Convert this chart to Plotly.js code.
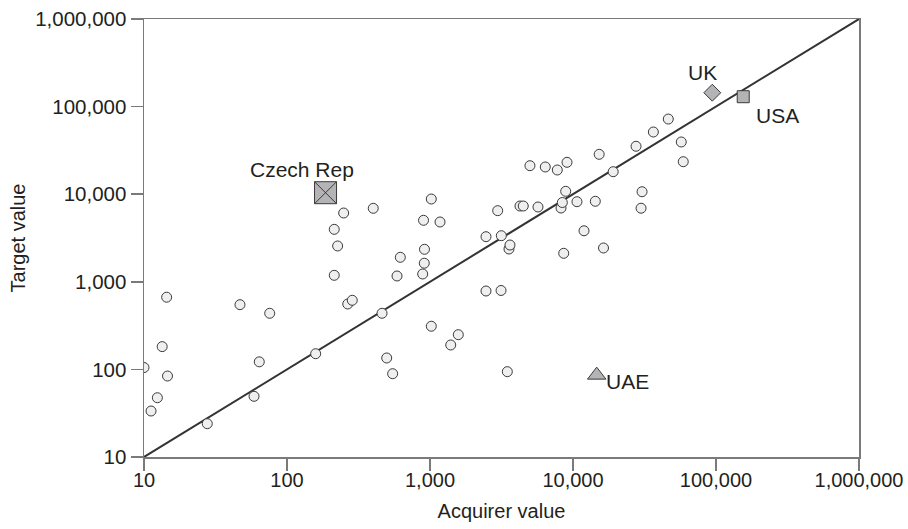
<!DOCTYPE html>
<html>
<head>
<meta charset="utf-8">
<script src="https://cdn.plot.ly/plotly-3.0.1.min.js"></script>
<style>html,body{margin:0;padding:0;background:#fff;}#chart{width:908px;height:529px;}</style>
</head>
<body>
<div id="chart"></div>
<script>
// ---- data ----
const circleX = [10, 11.2, 12.4, 13.4, 14.4, 14.6, 27.7, 46.9, 58.8, 64, 75.7, 158.7, 214, 214, 226, 249, 266, 286, 401, 462, 498, 548, 588, 620, 889, 912, 915, 901, 1021, 1021, 1175, 1396, 1577, 2464, 2464, 2974, 3153, 3139, 3473, 3567, 3625, 4259, 4490, 5000, 5690, 6400, 7766, 8244, 8420, 8610, 8890, 9080, 10660, 11940, 14320, 15240, 16340, 19100, 27600, 29920, 30400, 36470, 46380, 57150, 59020];
const circleY = [105, 33.5, 47.5, 182, 667, 84, 24, 548, 49.3, 122, 437, 151, 1186, 3973, 2564, 6100, 558, 615, 6902, 437, 135, 89.3, 1165, 1904, 1228, 1631, 2350, 5036, 8810, 311, 4817, 190, 249, 3273, 785, 6486, 3359, 796, 94.2, 2368, 2630, 7331, 7331, 21150, 7145, 20450, 18900, 6954, 8040, 2115, 10790, 23120, 8210, 3821, 8300, 28530, 2432, 18070, 35240, 6920, 10670, 51290, 72130, 39450, 23500];
const labelNames = ["Czech Rep", "UK", "USA", "UAE"];
const labelX = [186, 94200, 155000, 14650];
const labelY = [10400, 144000, 129700, 86];
const lineX = [10, 1000000];
const lineY = [10, 1000000];
const tickVals = [10, 100, 1000, 10000, 100000, 1000000];
const tickText = ["10", "100", "1,000", "10,000", "100,000", "1,000,000"];
const xTitle = "Acquirer value";
const yTitle = "Target value";

// ---- styles ----
const specialStyle = [
  {symbol: "square-x", size: 22, xshift: -24, yshift: 23},
  {symbol: "diamond", size: 13, xshift: -10, yshift: 20},
  {symbol: "square", size: 12, xshift: 34, yshift: -19},
  {symbol: "triangle-up", size: 16, xshift: 31, yshift: -6}
];
const textColor = "#231f20";
const axisColor = "#7a7a7a";
const sansFont = "Liberation Sans, Arial, Helvetica, sans-serif";

const traces = [];
traces.push({
  x: lineX, y: lineY, type: "scatter", mode: "lines",
  line: {color: "#333333", width: 2}, hoverinfo: "skip", showlegend: false
});
traces.push({
  x: circleX, y: circleY, type: "scatter", mode: "markers",
  marker: {symbol: "circle", size: 10, color: "#efefef", line: {color: "#3a3a3a", width: 1}},
  showlegend: false
});
labelNames.forEach((name, i) => {
  traces.push({
    x: [labelX[i]], y: [labelY[i]], type: "scatter", mode: "markers", name: name,
    marker: {symbol: specialStyle[i].symbol, size: specialStyle[i].size, color: "#b4b4b6",
             line: {color: "#3a3a3a", width: 1}},
    showlegend: false
  });
});

const annotations = labelNames.map((name, i) => ({
  x: Math.log10(labelX[i]), y: Math.log10(labelY[i]), xref: "x", yref: "y",
  text: name, showarrow: false, xanchor: "center", yanchor: "middle",
  xshift: specialStyle[i].xshift, yshift: specialStyle[i].yshift,
  font: {family: sansFont, size: 21, color: textColor}
}));

const layout = {
  width: 908, height: 529,
  margin: {l: 144, r: 49, t: 19, b: 72, pad: 0},
  paper_bgcolor: "#ffffff", plot_bgcolor: "#ffffff",
  showlegend: false,
  xaxis: {
    type: "log", range: [1, 6], tickvals: tickVals, ticktext: tickText,
    ticks: "outside", ticklen: 12, tickwidth: 1.5, tickcolor: axisColor,
    showline: true, linecolor: axisColor, linewidth: 1.5, mirror: true,
    showgrid: false, zeroline: false, ticklabeloverflow: "allow",
    ticklabelstandoff: -8,
    tickfont: {family: sansFont, size: 20, color: textColor},
    title: {text: xTitle, font: {family: sansFont, size: 20, color: textColor}, standoff: 14}
  },
  yaxis: {
    type: "log", range: [1, 6], tickvals: tickVals, ticktext: tickText,
    ticks: "outside", ticklen: 12, tickwidth: 1.5, tickcolor: axisColor,
    showline: true, linecolor: axisColor, linewidth: 1.5, mirror: true,
    showgrid: false, zeroline: false,
    tickfont: {family: sansFont, size: 20.5, color: textColor},
    title: {text: yTitle, font: {family: sansFont, size: 20, color: textColor}, standoff: 4}
  },
  annotations: annotations
};

Plotly.newPlot("chart", traces, layout, {displayModeBar: false, staticPlot: true});
</script>
</body>
</html>
